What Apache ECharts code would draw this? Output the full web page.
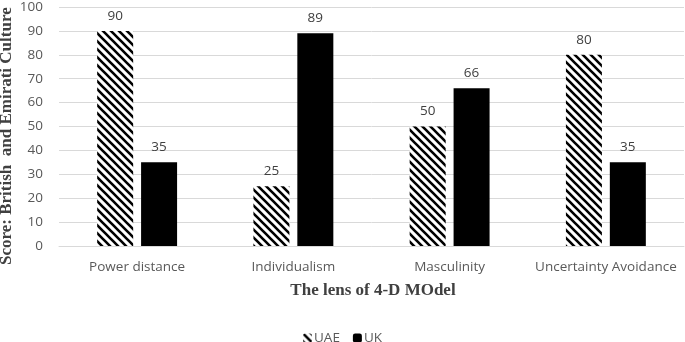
<!DOCTYPE html>
<html><head><meta charset="utf-8">
<script src="https://cdn.jsdelivr.net/npm/echarts@6/dist/echarts.min.js"></script>
<style>html,body{margin:0;padding:0;background:#fff}#c{width:685px;height:342px}</style>
</head><body><div id="c"></div>
<script>
const categories = ['Power distance', 'Individualism', 'Masculinity', 'Uncertainty Avoidance'];
const uaeValues = [90, 25, 50, 80];
const ukValues = [35, 89, 66, 35];
const seriesNames = ['UAE', 'UK'];

function makePattern() {
  const s = 8;
  const c = document.createElement('canvas');
  c.width = s; c.height = s;
  const g = c.getContext('2d');
  g.fillStyle = '#fff'; g.fillRect(0, 0, s, s);
  g.strokeStyle = '#000'; g.lineWidth = 2.6; g.lineCap = 'square';
  g.beginPath();
  g.moveTo(-s, -s); g.lineTo(2 * s, 2 * s);
  g.moveTo(-s, 0); g.lineTo(s, 2 * s);
  g.moveTo(0, -s); g.lineTo(2 * s, s);
  g.stroke();
  return c;
}
const pat = makePattern();
const FONT = '"Open Sans", Carlito, sans-serif';
const labelStyle = { show: true, position: 'top', color: '#404040', fontFamily: FONT, fontSize: 13.5, distance: 8 };
const chart = echarts.init(document.getElementById('c'), null, { renderer: 'canvas' });
chart.setOption({
  animation: false,
  grid: { left: 59, right: 1, top: 5, bottom: 96, containLabel: false },
  xAxis: {
    type: 'category', data: categories,
    axisLine: { show: true, lineStyle: { color: '#d9d9d9' } },
    axisTick: { show: false },
    axisLabel: { interval: 0, color: '#595959', fontFamily: FONT, fontSize: 13.5, margin: 14 }
  },
  yAxis: {
    type: 'value', min: 0, max: 100, interval: 10,
    axisLine: { show: false }, axisTick: { show: false },
    axisLabel: { color: '#595959', fontFamily: FONT, fontSize: 13.5, margin: 16 },
    splitLine: { lineStyle: { color: '#d9d9d9', width: 1 } }
  },
  legend: {
    top: 326, left: 'center', itemWidth: 9, itemHeight: 9, itemGap: 13,
    textStyle: { color: '#595959', fontFamily: FONT, fontSize: 13.5, padding: [0, 0, 0, -3] },
    data: seriesNames
  },
  series: [
    { name: seriesNames[0], type: 'bar', data: uaeValues, barWidth: 36, barGap: '22%',
      itemStyle: { color: { image: pat, repeat: 'repeat' } }, label: labelStyle },
    { name: seriesNames[1], type: 'bar', data: ukValues, barWidth: 36,
      itemStyle: { color: '#000' }, label: labelStyle }
  ],
  graphic: [
    { type: 'text', x: 373, y: 291, style: { text: 'The lens of 4-D MOdel', font: 'bold 17px "Liberation Serif", "Times New Roman", serif', fill: '#404040', align: 'center', verticalAlign: 'middle' } },
    { type: 'text', rotation: Math.PI / 2, x: -2, y: 265, style: { text: 'Score: British  and Emirati Culture', font: 'bold 17px "Liberation Serif", "Times New Roman", serif', fill: '#404040' } }
  ]
});
</script></body></html>
